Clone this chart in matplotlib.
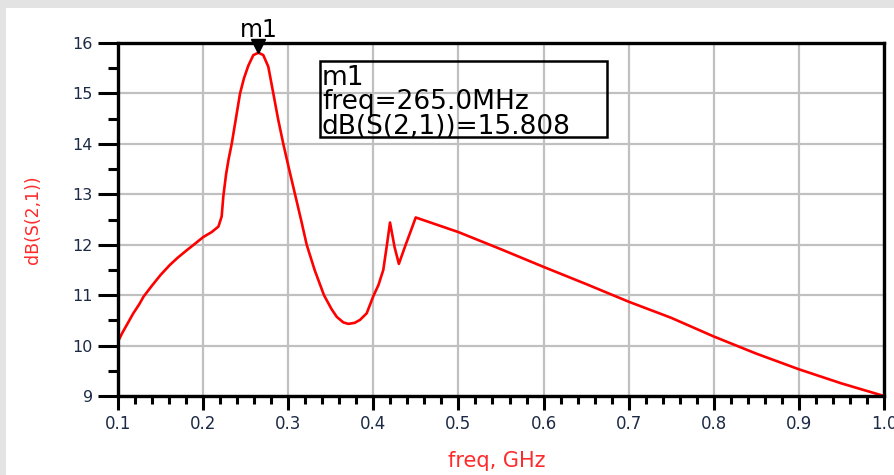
import matplotlib.pyplot as plt
from matplotlib.patches import Rectangle
from matplotlib.ticker import MultipleLocator
from matplotlib.transforms import offset_copy

# S21 sweep, frequency in GHz
freq_ghz = [
    0.100, 0.105, 0.110, 0.118, 0.125, 0.130, 0.140, 0.150, 0.161, 0.170,
    0.180, 0.189, 0.200, 0.210, 0.218, 0.2218, 0.2237, 0.2270, 0.2300, 0.2336,
    0.2385, 0.2434, 0.2480, 0.2531, 0.2590, 0.2650, 0.2707, 0.2766, 0.2825, 0.2880,
    0.2942, 0.3010, 0.3080, 0.3150, 0.3217, 0.3310, 0.3420, 0.3452, 0.3510, 0.3570,
    0.3647, 0.3706, 0.3780, 0.3844, 0.3922, 0.4000, 0.4060, 0.4117, 0.4160, 0.4196,
    0.4250, 0.4300, 0.4380, 0.4431, 0.4498, 0.5000, 0.5500, 0.6000, 0.6500, 0.7000,
    0.7500, 0.8000, 0.8500, 0.9000, 0.9500, 1.0000,
]
s21_db = [
    10.08, 10.25, 10.40, 10.64, 10.82, 10.97, 11.19, 11.40, 11.60, 11.74,
    11.88, 12.00, 12.15, 12.25, 12.36, 12.56, 12.95, 13.40, 13.70, 14.00,
    14.50, 15.00, 15.30, 15.55, 15.76, 15.808, 15.76, 15.53, 15.00, 14.50,
    14.00, 13.50, 13.00, 12.50, 12.00, 11.50, 11.00, 10.90, 10.72, 10.57,
    10.46, 10.43, 10.45, 10.51, 10.64, 10.98, 11.20, 11.50, 12.00, 12.44,
    11.95, 11.62, 12.00, 12.23, 12.54, 12.25, 11.91, 11.56, 11.22, 10.87,
    10.55, 10.18, 9.84, 9.53, 9.25, 9.00,
]

marker_name = "m1"
marker_freq_ghz = 0.265
marker_db = 15.808

x_ticks = [0.1, 0.2, 0.3, 0.4, 0.5, 0.6, 0.7, 0.8, 0.9, 1.0]
y_ticks = [9, 10, 11, 12, 13, 14, 15, 16]

tick_color = "#1c2a45"
trace_red = "#ff0000"

fig = plt.figure(figsize=(8.94, 4.75), dpi=100, facecolor="#e3e3e3")
fig.add_artist(Rectangle((6 / 894, 0), 888 / 894, 467 / 475, transform=fig.transFigure,
                         facecolor="white", edgecolor="none", zorder=-10))

ax = fig.add_axes([118 / 894, 79 / 475, 766 / 894, 353 / 475])
ax.set_facecolor("white")

ax.plot(freq_ghz, s21_db, color=trace_red, lw=1.9, zorder=3)

ax.set_xlim(x_ticks[0], x_ticks[-1])
ax.set_ylim(y_ticks[0], y_ticks[-1])
ax.set_xticks(x_ticks)
ax.set_xticklabels([f"{t:.1f}" for t in x_ticks])
ax.set_yticks(y_ticks)
ax.xaxis.set_minor_locator(MultipleLocator(0.02))
ax.yaxis.set_minor_locator(MultipleLocator(0.5))

ax.grid(True, which="major", color="#c0c0c0", lw=1.6)
ax.set_axisbelow(True)
for sp in ax.spines.values():
    sp.set_color("black")
    sp.set_linewidth(2.4)
    sp.set_zorder(4)

ax.tick_params(axis="y", which="major", length=14.4, width=2.2, pad=3.6,
               labelsize=11.5, labelcolor=tick_color)
ax.tick_params(axis="y", which="minor", length=7.2, width=2.2)
ax.tick_params(axis="x", which="major", length=10, width=2.2, pad=4,
               labelsize=12, labelcolor=tick_color)
ax.tick_params(axis="x", which="minor", length=6, width=2.2)

ax.set_xlabel("freq, GHz", color="#ff2a2a", fontsize=15, va="center")
ax.xaxis.set_label_coords(0.4948, -0.184)
ax.set_ylabel("dB(S(2,1))", color="#ff2a2a", fontsize=12.5, va="center")
ax.yaxis.set_label_coords(-0.111, 0.4986)

# marker triangle sits with its tip on the trace
tri = offset_copy(ax.transData, fig=fig, x=0, y=6.5, units="dots")
ax.plot([marker_freq_ghz], [marker_db], marker="v", ms=9.4, color="black",
        transform=tri, clip_on=False, zorder=6)
ax.annotate(marker_name, xy=(marker_freq_ghz, marker_db), xytext=(0, 11.5),
            textcoords="offset points", ha="center", va="baseline",
            fontsize=17, color="black", annotation_clip=False, zorder=6)

# marker readout box
ax.add_patch(Rectangle((0.2637, 0.7337), 0.3747, 0.2153, transform=ax.transAxes,
                       facecolor="none", edgecolor="black", lw=1.8, zorder=5))
readout = [marker_name,
           f"freq={marker_freq_ghz * 1000:.1f}MHz",
           f"dB(S(2,1))={marker_db:.3f}"]
for line, yb in zip(readout, [0.881, 0.813, 0.742]):
    ax.text(0.2663, yb, line, transform=ax.transAxes, ha="left", va="baseline",
            fontsize=19, color="black", zorder=5)

fig.savefig("out.png", dpi=100, facecolor=fig.get_facecolor())
